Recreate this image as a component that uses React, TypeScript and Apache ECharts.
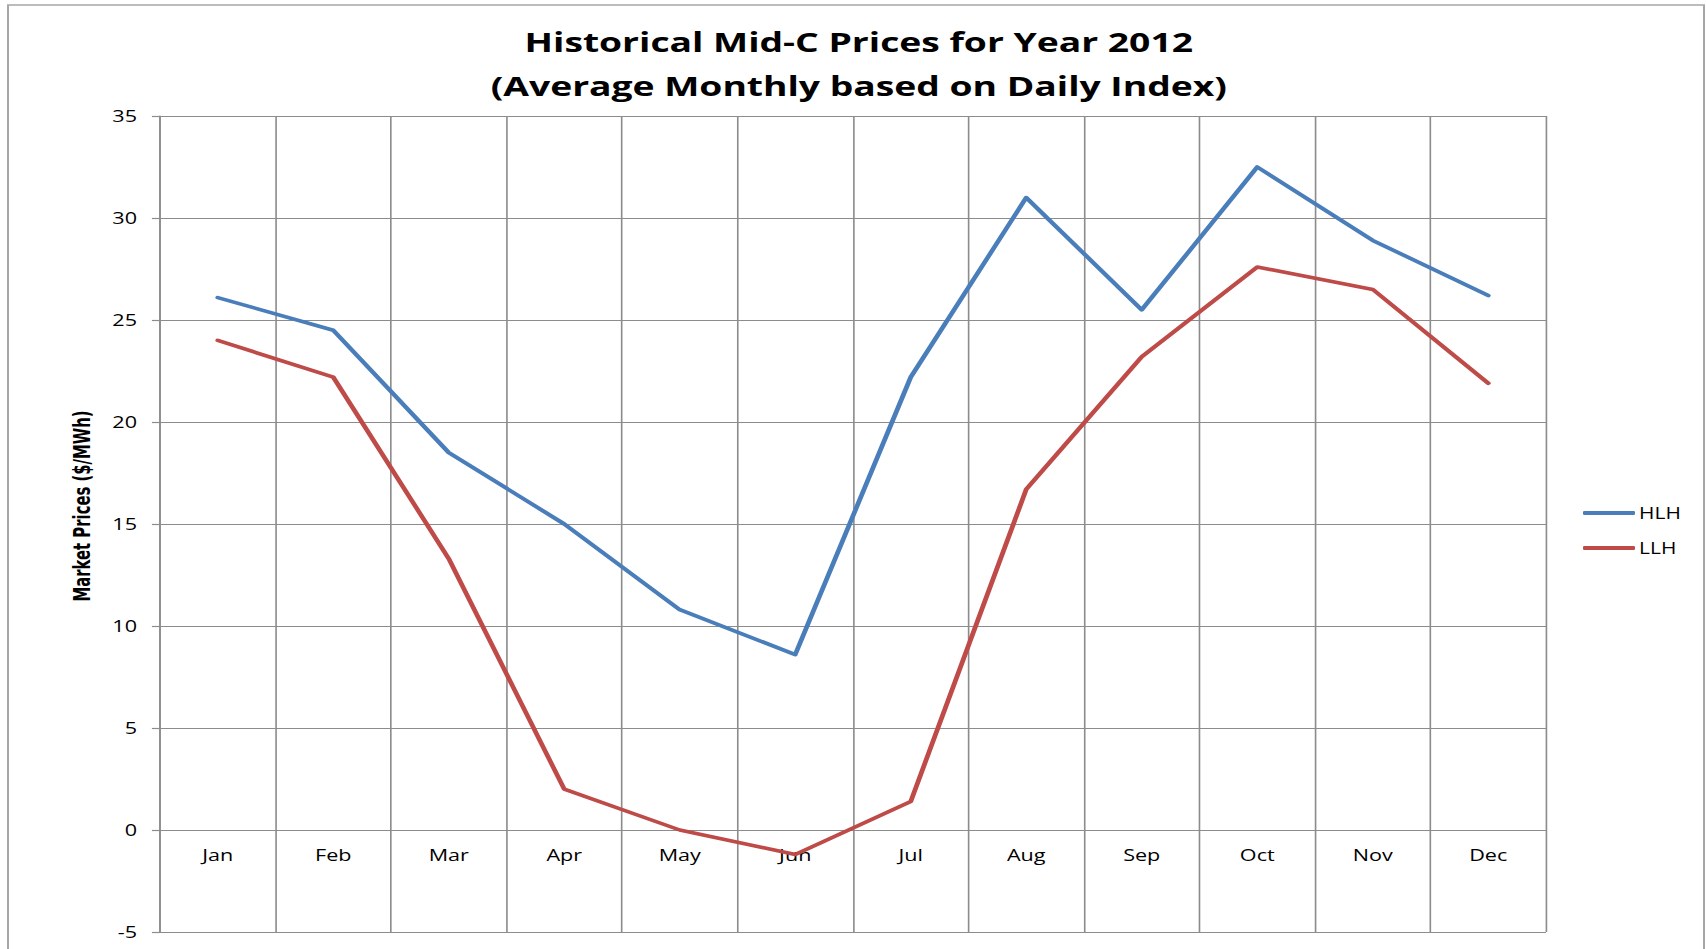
import React, { useEffect, useRef } from "react";
import * as echarts from "echarts";

const months = ["Jan", "Feb", "Mar", "Apr", "May", "Jun", "Jul", "Aug", "Sep", "Oct", "Nov", "Dec"];
const hlh = [26.1, 24.5, 18.5, 15.0, 10.8, 8.6, 22.2, 31.0, 25.5, 32.5, 28.9, 26.2];
const llh = [24.0, 22.2, 13.3, 2.0, 0.0, -1.2, 1.4, 16.7, 23.2, 27.6, 26.5, 21.9];
const yMin = -5;
const yMax = 35;
const yInterval = 5;

// The reference is horizontally stretched; draw in a narrower space and stretch.
const SX = 1.35;
const W = 1706 / SX;
const H = 949;

export default function App() {
  const ref = useRef<HTMLDivElement>(null);
  useEffect(() => {
    if (!ref.current) return;
    const chart = echarts.init(ref.current, null, { renderer: "svg" });
    const gridColor = "#8c8c8c";
    const gridLeft = 160 / SX;
    const gridWidth = 1386 / SX;
    chart.setOption({
      animation: false,
      backgroundColor: "#ffffff",
      title: {
        text: "Historical Mid-C Prices for Year 2012\n(Average Monthly based on Daily Index)",
        left: 852 / SX,
        top: 14,
        textAlign: "center",
        textStyle: {
          fontFamily: "Open Sans",
          fontWeight: "bold",
          fontSize: 27.6,
          lineHeight: 44,
          color: "#000000",
        },
      },
      graphic: [
        {
          type: "rect",
          shape: { x: 8 / SX, y: 5, width: 1696 / SX, height: 960 },
          style: { fill: "none", stroke: "#a6a6a6", lineWidth: 1.5 },
          silent: true,
        },
      ],
      legend: {
        orient: "vertical",
        left: 1583 / SX,
        top: 505,
        padding: 0,
        itemWidth: 52 / SX,
        itemHeight: 4,
        itemGap: 19,
        icon: "roundRect",
        textStyle: { fontFamily: "Open Sans", fontSize: 15.5, color: "#000", padding: [0, 0, 0, -2] },
        data: ["HLH", "LLH"],
      },
      grid: { left: gridLeft, top: 116, width: gridWidth, height: 816, containLabel: false },
      xAxis: {
        type: "category",
        data: months,
        boundaryGap: true,
        offset: -102,
        axisLine: { onZero: false, lineStyle: { color: gridColor, width: 1.2 } },
        axisTick: { show: false },
        axisLabel: { fontFamily: "Open Sans", fontSize: 16, color: "#000", margin: 17 },
        splitLine: { show: true, lineStyle: { color: gridColor, width: 1.2 } },
      },
      yAxis: {
        type: "value",
        min: yMin,
        max: yMax,
        interval: yInterval,
        name: "Market Prices ($/MWh)",
        nameLocation: "middle",
        nameGap: 49,
        nameRotate: 90,
        nameTextStyle: {
          fontFamily: "Liberation Sans Narrow, DejaVu Sans Condensed",
          fontWeight: "bold",
          fontSize: 16.5,
          color: "#000",
          padding: [0, 0, 0, 36],
        },
        axisLine: { show: true, lineStyle: { color: gridColor, width: 1.2 } },
        axisTick: { show: true, inside: false, length: 6, lineStyle: { color: gridColor, width: 1.2 } },
        axisLabel: { fontFamily: "Open Sans", fontSize: 16, color: "#000", margin: 17 },
        splitLine: { show: true, lineStyle: { color: gridColor, width: 1.2 } },
      },
      series: [
        {
          name: "HLH",
          type: "line",
          data: hlh,
          symbol: "none",
          lineStyle: { color: "#4a7ebb", width: 3.6, cap: "round", join: "round" },
          itemStyle: { color: "#4a7ebb" },
        },
        {
          name: "LLH",
          type: "line",
          data: llh,
          symbol: "none",
          lineStyle: { color: "#be4b48", width: 3.6, cap: "round", join: "round" },
          itemStyle: { color: "#be4b48" },
        },
      ],
    });
    return () => chart.dispose();
  }, []);
  return (
    <div style={{ position: "fixed", left: 0, top: 0, width: 1706, height: H, overflow: "hidden", background: "#fff" }}>
      <div
        ref={ref}
        style={{
          position: "absolute",
          left: 0,
          top: 0,
          width: W,
          height: H,
          transform: `scaleX(${SX})`,
          transformOrigin: "0 0",
        }}
      />
    </div>
  );
}
